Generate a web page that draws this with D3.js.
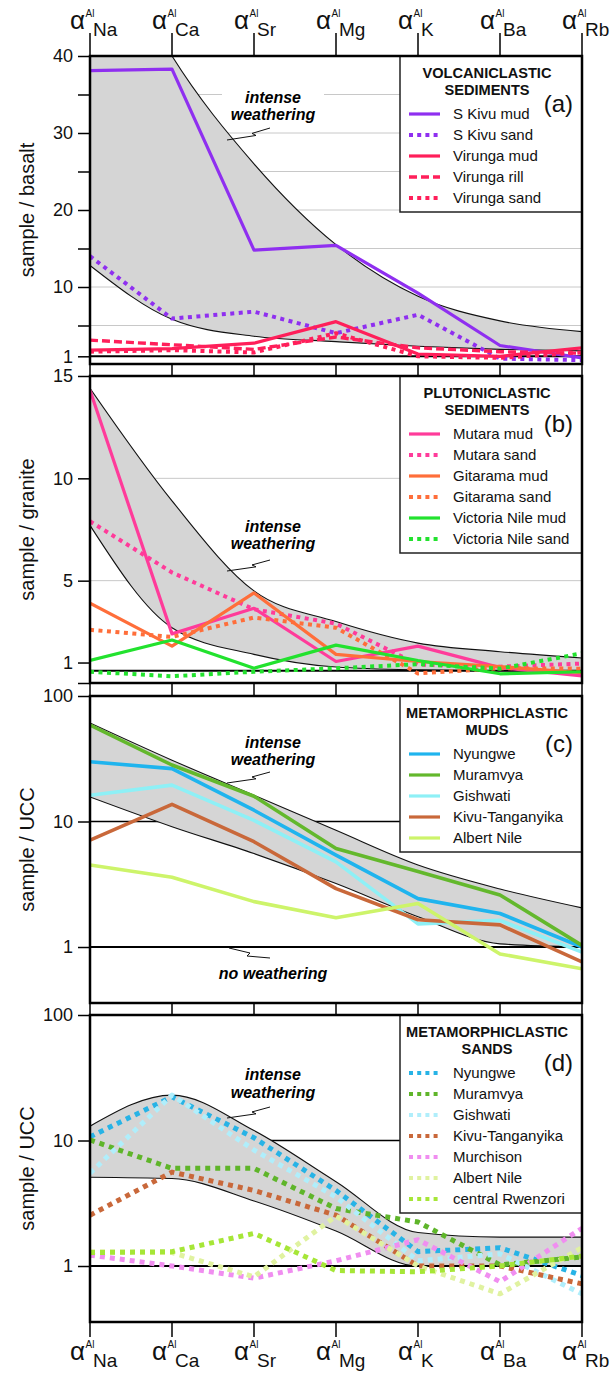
<!DOCTYPE html>
<html>
<head>
<meta charset="utf-8">
<script src="https://cdn.jsdelivr.net/npm/d3@7/dist/d3.min.js"></script>
<style>
  body { margin: 0; background: #fff; }
</style>
</head>
<body>
<svg width="612" height="1374"></svg>
<script>
// element categories along x
const elements = ["Na", "Ca", "Sr", "Mg", "K", "Ba", "Rb"];

// (a) volcaniclastic sediments / basalt
const aNames = ["S Kivu mud", "S Kivu sand", "Virunga mud", "Virunga rill", "Virunga sand"];
const aValues = [
  [38.1, 38.3, 14.8, 15.4, 9.2, 2.4, 0.8],
  [14.0, 5.9, 6.8, 4.0, 6.4, 0.7, 0.5],
  [1.8, 2.0, 2.7, 5.5, 1.3, 1.0, 2.1],
  [3.1, 2.5, 1.9, 3.5, 2.1, 1.6, 1.4],
  [1.6, 1.8, 1.5, 4.0, 1.0, 0.8, 1.5]
];
const aColors = ["#8f2ff0", "#8f2ff0", "#ff1f5a", "#ff1f5a", "#ff1f5a"];
const aStyles = ["solid", "dot", "solid", "dash", "dot"];
const aUpper = [60, 40, 26, 15.5, 8.8, 5.6, 4.2];
const aLower = [12.8, 5.8, 3.6, 2.9, 2.3, 1.9, 1.7];

// (b) plutoniclastic sediments / granite
const bNames = ["Mutara mud", "Mutara sand", "Gitarama mud", "Gitarama sand", "Victoria Nile mud", "Victoria Nile sand"];
const bValues = [
  [14.3, 2.4, 3.65, 1.05, 1.8, 0.75, 0.35],
  [7.9, 5.4, 3.6, 2.9, 0.9, 0.8, 0.95],
  [3.9, 1.8, 4.4, 1.4, 1.05, 0.8, 0.5],
  [2.6, 2.25, 3.2, 2.7, 0.47, 0.72, 0.7],
  [1.1, 2.1, 0.72, 1.85, 1.1, 0.45, 0.55],
  [0.55, 0.33, 0.55, 0.72, 0.92, 0.7, 1.45]
];
const bColors = ["#ff3b9a", "#ff3b9a", "#ff6e3a", "#ff6e3a", "#22e22e", "#22e22e"];
const bStyles = ["solid", "dot", "solid", "dot", "solid", "dot"];
const bUpper = [14.4, 8.9, 4.5, 3.0, 1.95, 1.53, 1.22];
const bLower = [7.7, 2.7, 1.4, 0.78, 0.64, 0.6, 0.6];

// (c) metamorphiclastic muds / UCC
const cNames = ["Nyungwe", "Muramvya", "Gishwati", "Kivu-Tanganyika", "Albert Nile"];
const cValues = [
  [29.9, 26.4, 12.3, 5.4, 2.43, 1.85, 1.0],
  [58.7, 28.2, 15.9, 6.1, 4.0, 2.6, 1.03],
  [16.2, 19.5, 10.2, 4.77, 1.53, 1.63, 0.91],
  [7.1, 13.7, 6.9, 2.92, 1.65, 1.5, 0.76],
  [4.5, 3.6, 2.3, 1.71, 2.22, 0.88, 0.67]
];
const cColors = ["#1fb4ee", "#63b82c", "#8ef0f6", "#c9683a", "#cdf46a"];
const cStyles = ["solid", "solid", "solid", "solid", "solid"];
const cUpper = [61, 30.8, 16.2, 8.5, 4.5, 2.9, 2.05];
const cLower = [15.7, 9.1, 5.55, 3.2, 1.74, 1.06, 1.0];

// (d) metamorphiclastic sands / UCC
const dNames = ["Nyungwe", "Muramvya", "Gishwati", "Kivu-Tanganyika", "Murchison", "Albert Nile", "central Rwenzori"];
const dValues = [
  [10.7, 22.3, 10.5, 4.0, 1.3, 1.4, 0.84],
  [10.1, 6.0, 6.0, 2.87, 2.24, 1.02, 1.18],
  [5.5, 23, 8.4, 3.55, 1.1, 1.25, 0.6],
  [2.54, 5.6, 4.0, 2.54, 1.0, 1.0, 0.72],
  [1.22, 1.0, 0.8, 1.1, 1.62, 0.75, 2.0],
  [1.3, 1.28, 0.82, 2.5, 1.0, 0.6, 1.4],
  [1.28, 1.3, 1.82, 0.92, 0.9, 1.0, 1.2]
];
const dColors = ["#27b3e6", "#5fb52a", "#b0eefb", "#c9683a", "#f08ef0", "#e0f2a0", "#a6e637"];
const dStyles = ["dot", "dot", "dot", "dot", "dot", "dot", "dot"];
const dUpper = [13, 23, 12, 4.7, 1.85, 1.7, 1.7];
const dLower = [5.1, 4.98, 3.3, 1.9, 1.0, 1.0, 1.0];

const font = "'Liberation Sans', Arial, Helvetica, sans-serif";
const svg = d3.select("svg");
const x = d3.scalePoint().domain(elements).range([90, 582]);
const left = 90, right = 582;

const panels = [
  { tag: "(a)", title: ["VOLCANICLASTIC", "SEDIMENTS"], ylab: "sample / basalt",
    top: 56, bottom: 364, y: d3.scaleLinear().domain([0, 40]).range([364, 56]),
    ticks: [1, 5, 10, 15, 20, 25, 30, 35, 40], labelled: [1, 10, 20, 30, 40],
    grid: [5, 10, 15, 20, 25, 30, 35], gridColor: "#c8c8c8", refs: [1],
    names: aNames, values: aValues, colors: aColors, styles: aStyles,
    upper: aUpper, lower: aLower, tickFrom: 33, lw: 3.2, dot: [4, 4.5] },
  { tag: "(b)", title: ["PLUTONICLASTIC", "SEDIMENTS"], ylab: "sample / granite",
    top: 376, bottom: 683, y: d3.scaleLinear().domain([0, 15]).range([683, 376]),
    ticks: [0, 1, 5, 10, 15], labelled: [1, 5, 10, 15],
    grid: [5, 10], gridColor: "#c8c8c8", refs: [0.6],
    names: bNames, values: bValues, colors: bColors, styles: bStyles,
    upper: bUpper, lower: bLower, tickFrom: 364, lw: 3.2, dot: [4, 4.5] },
  { tag: "(c)", title: ["METAMORPHICLASTIC", "MUDS"], ylab: "sample / UCC",
    top: 696, bottom: 1003, y: d3.scaleLog().domain([0.358, 100]).range([1003, 696]),
    ticks: [1, 10, 100], labelled: [1, 10, 100],
    grid: [10], gridColor: "#000", refs: [1],
    names: cNames, values: cValues, colors: cColors, styles: cStyles,
    upper: cUpper, lower: cLower, tickFrom: 683, lw: 3.6, dot: [4, 4.5],
    noWeathering: true },
  { tag: "(d)", title: ["METAMORPHICLASTIC", "SANDS"], ylab: "sample / UCC",
    top: 1015, bottom: 1322, y: d3.scaleLog().domain([0.358, 100]).range([1322, 1015]),
    ticks: [1, 10, 100], labelled: [1, 10, 100],
    grid: [10], gridColor: "#000", refs: [1],
    names: dNames, values: dValues, colors: dColors, styles: dStyles,
    upper: dUpper, lower: dLower, tickFrom: 1003, lw: 5, dot: [5, 5] }
];

// offsets of the "intense weathering" note from the panel top
const noteOffsets = [[42, 59], [151, 168], [47, 64], [60, 78]];
const noteLeader = [[72, 84], [184, 195], [76, 87], [92, 103]];

function strokeStyle(sel, style, color, p) {
  sel.attr("stroke", color).attr("fill", "none").attr("stroke-linejoin", "round");
  if (style === "solid") {
    sel.attr("stroke-width", p.lw);
  } else if (style === "dot") {
    sel.attr("stroke-width", p.dot[0]).attr("stroke-dasharray", p.dot.join(","));
  } else {
    sel.attr("stroke-width", 3.4).attr("stroke-dasharray", "8,4");
  }
}

panels.forEach((p, pi) => {
  const g = svg.append("g");
  const y = p.y;
  const clipId = "clip" + pi;
  svg.append("clipPath").attr("id", clipId)
    .append("rect").attr("x", left).attr("y", p.top).attr("width", right - left).attr("height", p.bottom - p.top);

  const plot = g.append("g").attr("clip-path", `url(#${clipId})`);

  // grid lines
  plot.selectAll(".grid").data(p.grid).enter().append("line")
    .attr("x1", left).attr("x2", right)
    .attr("y1", d => y(d)).attr("y2", d => y(d))
    .attr("stroke", p.gridColor).attr("stroke-width", p.gridColor === "#000" ? 1.5 : 1);

  // white patch behind the weathering note
  const no = noteOffsets[pi];
  plot.append("rect")
    .attr("x", 222).attr("y", p.top + no[0] - 11)
    .attr("width", 102).attr("height", no[1] - no[0] + 20)
    .attr("fill", "#fff");

  // intense weathering band
  const area = d3.area()
    .x((d, i) => x(elements[i]))
    .y0((d, i) => y(p.lower[i]))
    .y1((d, i) => y(p.upper[i]))
    .curve(d3.curveMonotoneX);
  plot.append("path").datum(p.upper).attr("d", area).attr("fill", "#d5d5d5");
  [p.upper, p.lower].forEach(b => {
    plot.append("path").datum(b)
      .attr("d", d3.line().x((d, i) => x(elements[i])).y(d => y(d)).curve(d3.curveMonotoneX))
      .attr("fill", "none").attr("stroke", "#111").attr("stroke-width", 1.1);
  });

  // reference lines
  plot.selectAll(".ref").data(p.refs).enter().append("line")
    .attr("x1", left).attr("x2", right)
    .attr("y1", d => y(d)).attr("y2", d => y(d))
    .attr("stroke", "#000").attr("stroke-width", 2);

  // series
  const line = d3.line().x((d, i) => x(elements[i])).y(d => y(d));
  p.values.forEach((vals, si) => {
    plot.append("path").datum(vals).attr("d", line)
      .call(strokeStyle, p.styles[si], p.colors[si], p);
  });

  // weathering note
  const tx = 273;
  const note = g.append("g").attr("font-family", font).attr("font-weight", "bold")
    .attr("font-style", "italic").attr("font-size", 16).attr("text-anchor", "middle");
  note.append("text").attr("x", tx).attr("y", p.top + no[0] + 5).text("intense");
  note.append("text").attr("x", tx).attr("y", p.top + no[1] + 5).text("weathering");
  const nl = noteLeader[pi];
  const y0 = p.top + nl[0], y1 = p.top + nl[1];
  g.append("path")
    .attr("d", `M270,${y0} L252,${y0 + (y1 - y0) * 0.45} L256,${y0 + (y1 - y0) * 0.62} L227,${y1}`)
    .attr("fill", "none").attr("stroke", "#111").attr("stroke-width", 1);

  if (p.noWeathering) {
    note.append("text").attr("x", tx).attr("y", 979).text("no weathering");
    const b = y(1);
    g.append("path")
      .attr("d", `M229,${b + 1} L250,${b + 6} L247,${b + 9} L270,${b + 11}`)
      .attr("fill", "none").attr("stroke", "#111").attr("stroke-width", 1);
  }

  // legend
  const n = p.names.length;
  const lg = g.append("g").attr("font-family", font);
  lg.append("rect").attr("x", 400).attr("y", p.top)
    .attr("width", right - 400).attr("height", 58 + (n - 1) * 21 + 14)
    .attr("fill", "#fff").attr("stroke", "#222").attr("stroke-width", 1.5);
  p.title.forEach((t, ti) => {
    lg.append("text").attr("x", 487).attr("y", p.top + 22 + ti * 17)
      .attr("text-anchor", "middle").attr("font-weight", "bold").attr("font-size", 14.6)
      .attr("fill", "#111").text(t);
  });
  lg.append("text").attr("x", 573).attr("y", p.top + 56).attr("text-anchor", "end")
    .attr("font-size", 24).attr("fill", "#111").text(p.tag);
  p.names.forEach((name, si) => {
    const ry = p.top + 58 + si * 21;
    lg.append("line").attr("x1", 409).attr("x2", 440).attr("y1", ry).attr("y2", ry)
      .call(strokeStyle, p.styles[si], p.colors[si], Object.assign({}, p, { lw: 3.2, dot: [4, 4.2] }));
    lg.append("text").attr("x", 453).attr("y", ry + 5).attr("font-size", 15)
      .attr("fill", "#111").text(name);
  });

  // frame
  g.append("rect").attr("x", left).attr("y", p.top)
    .attr("width", right - left).attr("height", p.bottom - p.top)
    .attr("fill", "none").attr("stroke", "#000").attr("stroke-width", 2.5);

  // left axis
  const axis = g.append("g").attr("transform", `translate(${left},0)`)
    .call(d3.axisLeft(y).tickValues(p.ticks).tickSize(12).tickPadding(5)
      .tickFormat(d => p.labelled.includes(d) ? String(d) : ""));
  axis.select(".domain").remove();
  axis.selectAll(".tick line").attr("stroke", "#000").attr("stroke-width", 1.5);
  axis.selectAll(".tick text").attr("font-family", font).attr("font-size", 18).attr("fill", "#111");

  // y axis title
  g.append("text")
    .attr("transform", `translate(34,${(p.top + p.bottom) / 2}) rotate(-90)`)
    .attr("text-anchor", "middle").attr("font-family", font).attr("font-size", 20)
    .attr("fill", "#111").text(p.ylab);

  // category ticks on top edge
  g.selectAll(".ctick").data(elements).enter().append("line")
    .attr("x1", d => x(d)).attr("x2", d => x(d))
    .attr("y1", p.tickFrom).attr("y2", p.top)
    .attr("stroke", "#000").attr("stroke-width", 1.5);
});

// bottom ticks of the last panel
const last = panels[panels.length - 1];
svg.append("g").selectAll("line").data(elements).enter().append("line")
  .attr("x1", d => x(d)).attr("x2", d => x(d))
  .attr("y1", last.bottom).attr("y2", last.bottom + 15)
  .attr("stroke", "#000").attr("stroke-width", 1.5);

// alpha^Al_X labels, top and bottom
function elementLabels(base) {
  const g = svg.append("g").attr("font-family", font).attr("fill", "#111");
  elements.forEach(e => {
    const cx = x(e);
    g.append("text").attr("x", cx).attr("y", base).attr("text-anchor", "middle")
      .attr("font-size", 10).text("Al");
    g.append("text").attr("x", cx - 5).attr("y", base + 12).attr("text-anchor", "end")
      .attr("font-size", 26).text("α");
    g.append("text").attr("x", cx + 3).attr("y", base + 19).attr("font-size", 19).text(e);
  });
}
elementLabels(17);
elementLabels(1348);
</script>
</body>
</html>
